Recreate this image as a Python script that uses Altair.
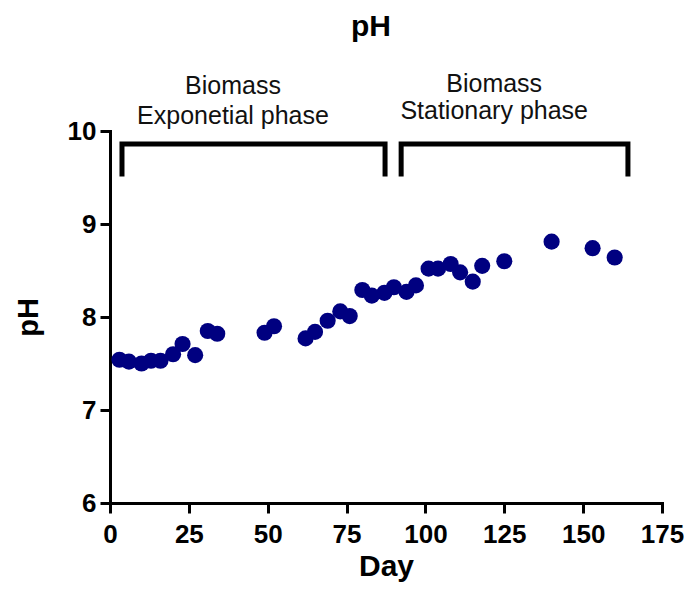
import altair as alt
import pandas as pd

# Measured data
days = [3, 6, 10, 13, 16, 20, 23, 27, 31, 34, 49, 52, 62, 65, 69, 73, 76, 80, 83,
        87, 90, 94, 97, 101, 104, 108, 111, 115, 118, 125, 140, 153, 160]
ph = [7.54, 7.52, 7.50, 7.53, 7.53, 7.60, 7.71, 7.59, 7.85, 7.82, 7.83, 7.90, 7.77,
      7.84, 7.96, 8.06, 8.01, 8.29, 8.23, 8.26, 8.32, 8.27, 8.34, 8.52, 8.52, 8.57,
      8.48, 8.38, 8.55, 8.60, 8.81, 8.74, 8.64]

# Bracket annotations (data coordinates)
bracket_x = [3.8, 3.8, 87.2, 87.2, 92.3, 92.3, 164.2, 164.2]
bracket_y = [9.51, 9.86, 9.86, 9.51, 9.51, 9.86, 9.86, 9.51]
bracket_group = ["a", "a", "a", "a", "b", "b", "b", "b"]
bracket_order = [0, 1, 2, 3, 0, 1, 2, 3]

# Annotation texts
note_text = ["Biomass", "Exponetial phase", "Biomass", "Stationary phase"]
note_x = [39.0, 39.0, 121.8, 121.8]
note_y = [10.48, 10.16, 10.51, 10.21]

x_ticks = [0, 25, 50, 75, 100, 125, 150, 175]
y_ticks = [6, 7, 8, 9, 10]

FONT = "Liberation Sans, Arial, sans-serif"

df = pd.DataFrame({"Day": days, "pH": ph})
br = pd.DataFrame({"x": bracket_x, "y": bracket_y, "g": bracket_group, "o": bracket_order})
nt = pd.DataFrame({"t": note_text, "x": note_x, "y": note_y})

xscale = alt.Scale(domain=[0, 175], nice=False, zero=False)
yscale = alt.Scale(domain=[6, 10], nice=False, zero=False)

axis_common = dict(
    labelFont=FONT, labelFontWeight="bold", labelFontSize=26, labelColor="black",
    titleFont=FONT, titleFontWeight="bold", titleColor="black",
    domainColor="black", domainWidth=3, domainCap="square",
    tickColor="black", tickWidth=3, tickSize=10,
    grid=False, labelOverlap=False, labelFlush=False, format="d",
)

points = alt.Chart(df).mark_circle(size=260, color="#000080", opacity=1).encode(
    x=alt.X("Day:Q", scale=xscale,
            axis=alt.Axis(values=x_ticks, title="Day", titleFontSize=30,
                          labelPadding=8, titlePadding=4, **axis_common)),
    y=alt.Y("pH:Q", scale=yscale,
            axis=alt.Axis(values=y_ticks, title="pH", titleFontSize=29,
                          labelPadding=4, titlePadding=24, **axis_common)),
)

brackets = alt.Chart(br).mark_line(color="black", strokeWidth=5, strokeJoin="miter",
                                   strokeCap="butt").encode(
    x=alt.X("x:Q", scale=xscale),
    y=alt.Y("y:Q", scale=yscale),
    detail="g:N",
    order="o:Q",
)

notes = alt.Chart(nt).mark_text(font=FONT, fontSize=25, color="#111111",
                                align="center", baseline="middle").encode(
    x=alt.X("x:Q", scale=xscale),
    y=alt.Y("y:Q", scale=yscale),
    text="t:N",
)

chart = (points + brackets + notes).properties(
    width=552,
    height=372,
    title=alt.TitleParams("pH", font=FONT, fontSize=30, fontWeight="bold", color="black",
                          frame="group", anchor="middle", offset=30, dx=-15),
    autosize=alt.AutoSizeParams(type="none"),
    padding={"left": 102, "top": 123, "right": 22, "bottom": 79},
).configure_view(strokeWidth=0)

chart.save("out.html", embed_options={"renderer": "svg", "actions": False})
